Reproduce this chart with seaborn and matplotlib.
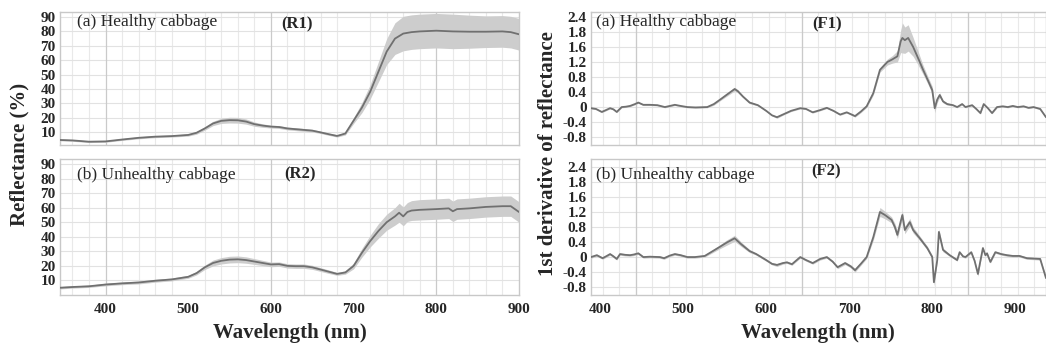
import numpy as np
import pandas as pd
import seaborn as sns
import matplotlib.pyplot as plt
from matplotlib.ticker import MultipleLocator, FixedLocator, NullFormatter

# ---- reflectance, healthy (R1) ----
wl_r1 = [345, 360, 380, 400, 420, 440, 460, 480, 500, 510, 520, 530, 540, 550, 560,
         570, 580, 590, 600, 610, 620, 630, 640, 650, 660, 670, 680, 690, 700, 710,
         720, 730, 740, 750, 760, 770, 780, 800, 820, 840, 860, 880, 890, 900]
r1_mean = [4.5, 4.2, 3.3, 3.5, 4.8, 6.0, 6.8, 7.2, 8.0, 9.5, 12.5, 16.0, 17.8, 18.3, 18.2,
           17.3, 15.5, 14.5, 13.8, 13.5, 12.5, 12.0, 11.5, 11.0, 9.8, 8.5, 7.3, 9.0, 18.0, 27.0,
           38.0, 52.0, 66.0, 75.0, 78.5, 79.5, 80.0, 80.5, 80.0, 79.8, 79.8, 80.0, 79.5, 78.0]
r1_sd = [0.6, 0.6, 0.6, 0.6, 0.6, 0.7, 0.7, 0.7, 0.8, 1.0, 1.2, 1.5, 1.8, 2.0, 2.0,
         1.8, 1.5, 1.2, 1.0, 1.0, 1.0, 1.0, 1.0, 0.9, 0.8, 0.8, 0.8, 1.0, 2.0, 3.5,
         5.0, 7.0, 9.0, 11.0, 12.0, 12.0, 12.0, 12.0, 12.0, 11.5, 11.0, 11.0, 11.0, 11.0]

# ---- reflectance, unhealthy (R2) ----
wl_r2 = [345, 360, 380, 400, 420, 440, 460, 480, 500, 510, 520, 530, 540, 550, 560,
         570, 580, 590, 600, 610, 620, 630, 640, 650, 660, 670, 680, 690, 700, 710,
         720, 730, 740, 750, 755, 760, 765, 770, 780, 800, 815, 820, 825, 840, 860,
         880, 890, 900]
r2_mean = [5.0, 5.5, 6.0, 7.2, 8.0, 8.6, 9.8, 10.7, 12.5, 15.0, 19.0, 22.0, 23.5, 24.3, 24.5,
           24.0, 23.0, 22.0, 21.0, 21.2, 20.0, 19.8, 19.8, 19.0, 17.5, 16.0, 14.5, 15.5, 20.0, 29.0,
           37.0, 44.0, 50.0, 54.0, 56.5, 54.0, 57.0, 58.0, 58.5, 59.0, 59.5, 57.5, 59.0, 59.5, 60.5,
           61.0, 61.0, 57.0]
r2_sd = [0.8, 0.8, 0.8, 0.9, 0.9, 1.0, 1.0, 1.0, 1.0, 1.2, 1.5, 2.0, 2.2, 2.3, 2.3,
         2.2, 2.0, 1.8, 1.6, 1.5, 1.5, 1.5, 1.5, 1.4, 1.3, 1.2, 1.0, 1.2, 2.0, 3.0,
         4.0, 5.0, 5.5, 6.0, 6.5, 6.5, 6.5, 6.8, 7.0, 7.0, 7.0, 7.0, 7.0, 7.0, 7.0,
         7.0, 7.0, 7.0]

# ---- first derivative, healthy (F1) ----
wl_f1 = [389, 395, 402, 407, 412, 416, 420, 426, 431, 436, 442, 446, 452, 460, 469,
         478, 484, 490, 497, 505, 515, 529, 537, 544, 552, 562, 566, 572, 580, 590,
         600, 607, 613, 620, 630, 641, 648, 656, 665, 673, 681, 689, 697, 707, 714,
         721, 729, 737, 746, 752, 758, 762, 764, 767, 771, 777, 783, 789, 795, 800,
         803, 806, 809, 813, 818, 825, 830, 836, 840, 848, 853, 858, 862, 867, 872,
         878, 885, 891, 897, 903, 910, 916, 922, 930, 937]
f1_mean = [-0.03, -0.05, -0.13, -0.08, -0.03, -0.06, -0.13, 0.00, 0.01, 0.03, 0.08, 0.12, 0.06, 0.06, 0.05,
           0.00, 0.03, 0.06, 0.03, 0.00, -0.01, 0.00, 0.08, 0.19, 0.32, 0.48, 0.42, 0.28, 0.12, 0.05,
           -0.10, -0.22, -0.27, -0.20, -0.10, -0.03, -0.05, -0.14, -0.08, -0.02, -0.10, -0.20, -0.14, -0.24, -0.12,
           0.02, 0.37, 0.99, 1.20, 1.27, 1.35, 1.75, 1.84, 1.78, 1.84, 1.60, 1.30, 0.99, 0.70, 0.45,
           -0.03, 0.20, 0.32, 0.15, 0.08, 0.05, 0.00, 0.08, 0.00, 0.05, -0.05, -0.16, 0.08, -0.03, -0.16,
           0.00, 0.02, 0.00, 0.03, 0.00, 0.02, -0.02, 0.00, -0.05, -0.27]
f1_sd = [0.02, 0.02, 0.02, 0.02, 0.02, 0.02, 0.02, 0.02, 0.02, 0.02, 0.02, 0.02, 0.02, 0.02, 0.02,
         0.02, 0.02, 0.02, 0.02, 0.02, 0.02, 0.02, 0.03, 0.03, 0.04, 0.05, 0.04, 0.03, 0.03, 0.02,
         0.02, 0.02, 0.03, 0.02, 0.02, 0.02, 0.02, 0.02, 0.02, 0.02, 0.02, 0.02, 0.02, 0.03, 0.03,
         0.03, 0.05, 0.06, 0.08, 0.10, 0.15, 0.30, 0.40, 0.35, 0.35, 0.25, 0.18, 0.12, 0.10, 0.10,
         0.12, 0.08, 0.06, 0.04, 0.03, 0.02, 0.02, 0.02, 0.02, 0.02, 0.02, 0.03, 0.02, 0.02, 0.02,
         0.02, 0.02, 0.02, 0.02, 0.02, 0.02, 0.02, 0.02, 0.02, 0.03]

# ---- first derivative, unhealthy (F2) ----
wl_f2 = [389, 396, 403, 408, 412, 416, 420, 424, 430, 436, 441, 446, 452, 460, 472,
         477, 484, 490, 497, 505, 514, 526, 535, 544, 552, 562, 570, 580, 588, 600,
         607, 613, 620, 625, 631, 641, 648, 656, 665, 673, 680, 686, 695, 702, 707,
         714, 721, 729, 737, 743, 751, 755, 758, 762, 764, 767, 773, 777, 785, 794,
         800, 802, 806, 808, 813, 821, 830, 833, 837, 840, 847, 851, 855, 858, 861,
         864, 866, 870, 876, 883, 890, 897, 905, 914, 922, 930, 937]
f2_mean = [0.00, 0.05, -0.03, 0.03, 0.08, 0.02, -0.05, 0.08, 0.06, 0.05, 0.07, 0.10, 0.00, 0.01, 0.00,
           -0.03, 0.04, 0.08, 0.05, 0.00, 0.00, 0.03, 0.15, 0.27, 0.38, 0.50, 0.34, 0.16, 0.08, -0.08,
           -0.18, -0.21, -0.16, -0.14, -0.19, 0.00, -0.08, -0.16, -0.05, 0.00, -0.12, -0.27, -0.16, -0.25, -0.35,
           -0.18, 0.00, 0.53, 1.20, 1.12, 0.99, 0.80, 0.59, 0.95, 1.12, 0.72, 0.93, 0.72, 0.50, 0.24,
           0.00, -0.67, -0.08, 0.67, 0.19, 0.05, -0.08, 0.13, 0.02, 0.00, 0.13, -0.10, -0.45, -0.10, 0.24,
           0.05, 0.10, -0.13, 0.13, 0.08, 0.05, 0.03, 0.03, -0.03, -0.04, -0.05, -0.56]
f2_sd = [0.03, 0.03, 0.03, 0.03, 0.03, 0.03, 0.03, 0.03, 0.03, 0.03, 0.03, 0.03, 0.03, 0.03, 0.03,
         0.03, 0.03, 0.03, 0.03, 0.03, 0.03, 0.03, 0.04, 0.05, 0.07, 0.08, 0.06, 0.04, 0.03, 0.03,
         0.03, 0.04, 0.03, 0.03, 0.03, 0.03, 0.03, 0.03, 0.03, 0.03, 0.03, 0.04, 0.04, 0.04, 0.05,
         0.04, 0.04, 0.08, 0.12, 0.10, 0.08, 0.10, 0.10, 0.10, 0.12, 0.10, 0.10, 0.08, 0.06, 0.05,
         0.05, 0.10, 0.06, 0.08, 0.05, 0.03, 0.03, 0.03, 0.03, 0.03, 0.03, 0.04, 0.06, 0.04, 0.04,
         0.03, 0.03, 0.03, 0.03, 0.03, 0.03, 0.03, 0.03, 0.03, 0.03, 0.03, 0.04]

refl_ticks = [10, 20, 30, 40, 50, 60, 70, 80, 90]
refl_labels = ['10', '20', '30', '40', '50', '60', '70', '80', '90']
deriv_ticks = [-0.8, -0.4, 0.0, 0.4, 0.8, 1.2, 1.6, 2.0, 2.4]
deriv_labels = ['-0.8', '-0.4', '0', '0.4', '0.8', '1.2', '1.6', '1.8', '2.4']
wl_ticks = [400, 500, 600, 700, 800, 900]

sns.set_style("white")
plt.rcParams['font.family'] = ['Liberation Serif', 'DejaVu Serif']

fig = plt.figure(figsize=(10.46, 3.5), dpi=100)
ax_r1 = fig.add_axes([0.0574, 0.5857, 0.4388, 0.3800])
ax_r2 = fig.add_axes([0.0574, 0.1571, 0.4388, 0.3886])
ax_f1 = fig.add_axes([0.5650, 0.5857, 0.4350, 0.3800])
ax_f2 = fig.add_axes([0.5650, 0.1571, 0.4350, 0.3886])

line_col = '#707070'
band_col = '#cdcdcd'


def draw(ax, wl, mean, sd):
    df = pd.DataFrame({'wl': wl, 'mean': mean, 'sd': sd})
    ax.fill_between(df['wl'], df['mean'] - df['sd'], df['mean'] + df['sd'],
                    color=band_col, lw=0, zorder=2)
    sns.lineplot(data=df, x='wl', y='mean', ax=ax, color=line_col, lw=1.3, zorder=3)


def style(ax, xlim, ylim, yticks, ylabels, minor_offset, major_lines, show_x):
    ax.set_xlim(*xlim)
    ax.set_ylim(*ylim)
    ax.xaxis.set_major_locator(FixedLocator(wl_ticks))
    ax.xaxis.set_minor_locator(MultipleLocator(20, offset=minor_offset))
    ax.yaxis.set_major_locator(FixedLocator(yticks))
    ax.set_yticklabels(ylabels)
    ax.grid(False)
    ax.grid(which='minor', axis='x', color='#e9e9e9', lw=0.8, zorder=0)
    ax.grid(which='major', axis='y', color='#e2e2e2', lw=0.8, zorder=0)
    for v in major_lines:
        ax.axvline(v, color='#cacaca', lw=0.9, zorder=1)
    ax.tick_params(axis='both', which='both', length=0)
    ax.tick_params(axis='y', pad=3, labelsize=11)
    ax.tick_params(axis='x', pad=6, labelsize=11)
    for lab in ax.get_xticklabels() + ax.get_yticklabels():
        lab.set_fontweight('bold')
    if not show_x:
        ax.xaxis.set_major_formatter(NullFormatter())
    for s in ax.spines.values():
        s.set_color('#c8c8c8')
        s.set_linewidth(1.0)
    ax.set_xlabel('')
    ax.set_ylabel('')


draw(ax_r1, wl_r1, r1_mean, r1_sd)
draw(ax_r2, wl_r2, r2_mean, r2_sd)
draw(ax_f1, wl_f1, f1_mean, f1_sd)
draw(ax_f2, wl_f2, f2_mean, f2_sd)

style(ax_r1, (345, 900), (1, 93.5), refl_ticks, refl_labels, 0, [400, 600, 800], False)
style(ax_r2, (345, 900), (0, 93.4), refl_ticks, refl_labels, 0, [400, 600, 800], True)
style(ax_f1, (389, 937), (-1.01, 2.53), deriv_ticks, deriv_labels, 3, [443, 643, 843], False)
style(ax_f2, (389, 937), (-1.01, 2.61), deriv_ticks, deriv_labels, 3, [443, 643, 843], True)

txt = dict(fontsize=12.5, va='center', ha='left')
bold = dict(fontsize=12, va='center', ha='center', fontweight='bold')
ax_r1.text(0.037, 0.925, '(a) Healthy cabbage', transform=ax_r1.transAxes, **txt)
ax_r1.text(0.516, 0.905, '(R1)', transform=ax_r1.transAxes, **bold)
ax_r2.text(0.037, 0.885, '(b) Unhealthy cabbage', transform=ax_r2.transAxes, **txt)
ax_r2.text(0.522, 0.885, '(R2)', transform=ax_r2.transAxes, **bold)
ax_f1.text(0.011, 0.925, '(a) Healthy cabbage', transform=ax_f1.transAxes, **txt)
ax_f1.text(0.519, 0.905, '(F1)', transform=ax_f1.transAxes, **bold)
ax_f2.text(0.011, 0.885, '(b) Unhealthy cabbage', transform=ax_f2.transAxes, **txt)
ax_f2.text(0.517, 0.91, '(F2)', transform=ax_f2.transAxes, **bold)

lab = dict(fontsize=15, fontweight='bold')
fig.text(0.277, 0.048, 'Wavelength (nm)', ha='center', va='center', **lab)
fig.text(0.782, 0.048, 'Wavelength (nm)', ha='center', va='center', **lab)
fig.text(0.019, 0.56, 'Reflectance (%)', rotation=90, ha='center', va='center', **lab)
fig.text(0.524, 0.56, '1st derivative of reflectance', rotation=90, ha='center', va='center', **lab)

fig.savefig('out.png', dpi=100)
